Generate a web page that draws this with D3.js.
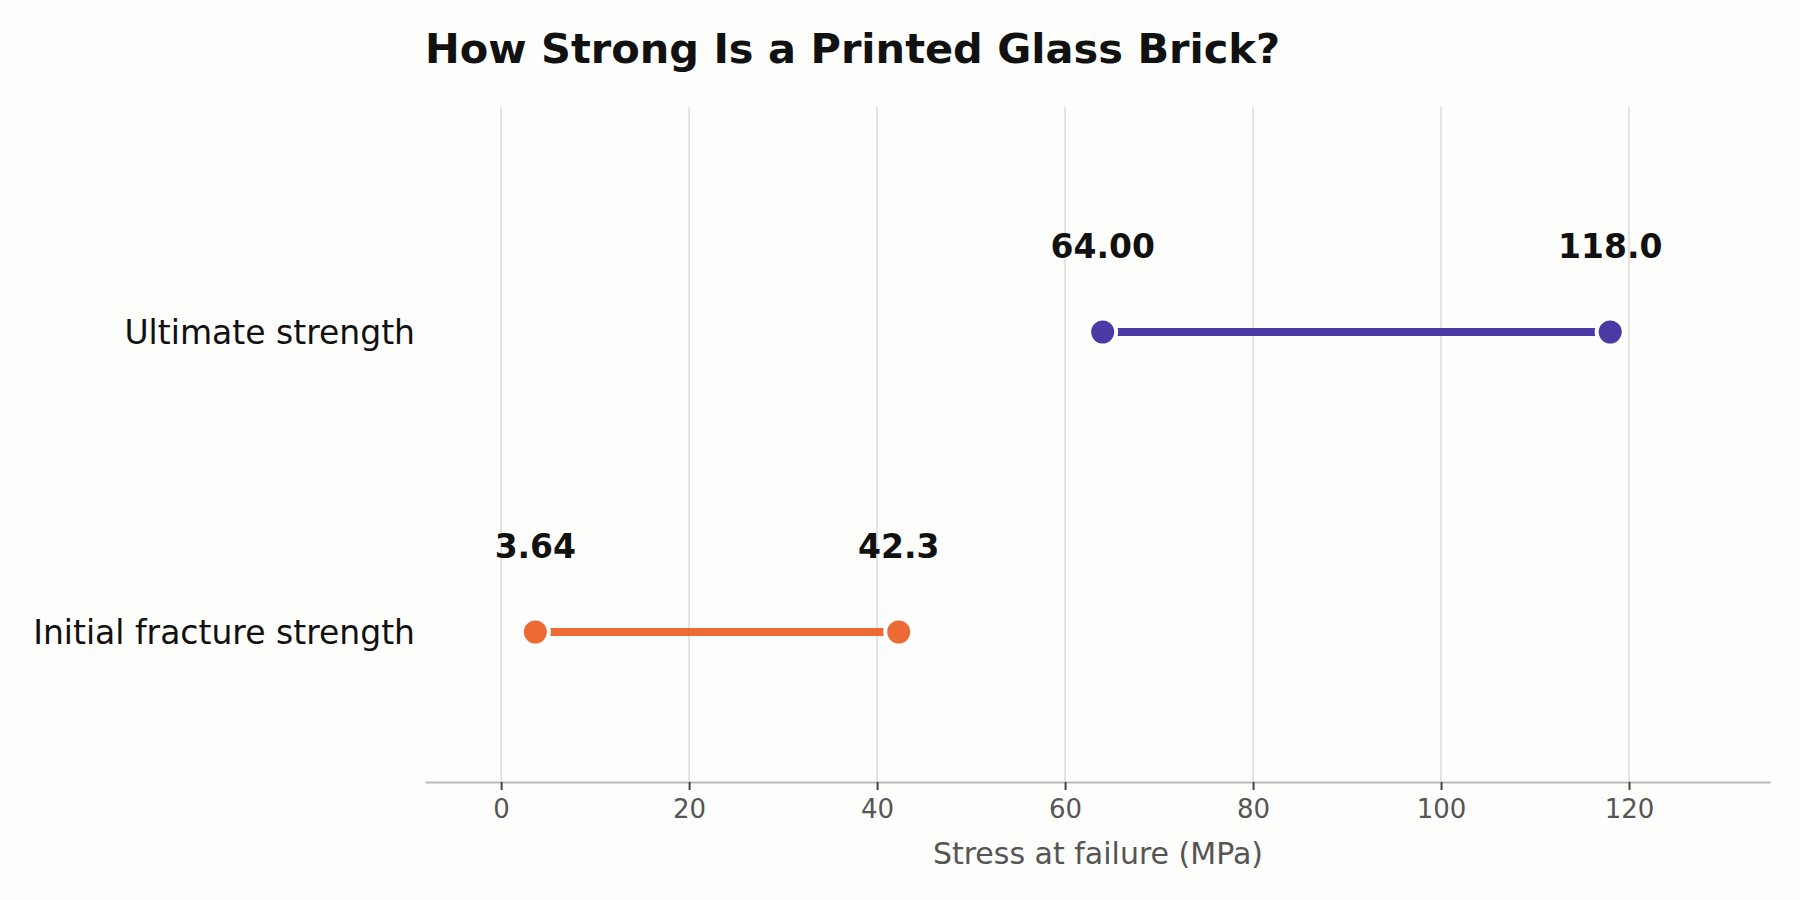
<!DOCTYPE html><html><head><meta charset="utf-8"><script src="https://cdn.jsdelivr.net/npm/d3@7"></script>
<style>body{margin:0;background:#fdfdfc}text{font-family:"DejaVu Sans",sans-serif}</style></head><body><svg id="c" width="1800" height="900"></svg><script>
const categories=["Ultimate strength","Initial fracture strength"];
const lowValues=[64.00,3.64];
const highValues=[118.0,42.3];
const lowLabels=["64.00","3.64"];
const highLabels=["118.0","42.3"];
const colors=["#4b3aa6","#ee6a35"];
const xTicks=[0,20,40,60,80,100,120];
const svg=d3.select("#c");
svg.append("rect").attr("width",1800).attr("height",900).attr("fill","#fdfdfc");
const x=d3.scaleLinear().domain([-8.1,135]).range([425,1770]);
const y=d3.scalePoint().domain(categories).range([332,632]);
const g=svg.append("g");
g.selectAll(".grid").data(xTicks).join("line").attr("x1",d=>x(d)).attr("x2",d=>x(d)).attr("y1",107).attr("y2",782).attr("stroke","#dddbd7").attr("stroke-width",1.5);
const ax=svg.append("g").attr("transform","translate(0,782)").call(d3.axisBottom(x).tickValues(xTicks).tickSize(8).tickSizeOuter(0).tickPadding(10));
ax.select(".domain").attr("stroke","#bbbab5").attr("stroke-width",2);
ax.selectAll(".tick line").attr("stroke","#444").attr("stroke-width",2);
ax.selectAll(".tick text").attr("fill","#555").attr("font-size",26).attr("font-family","DejaVu Sans");
svg.append("text").attr("x",x(63.5)).attr("y",864).attr("text-anchor","middle").attr("font-size",30).attr("fill","#555").text("Stress at failure (MPa)");
svg.append("text").attr("x",425).attr("y",63).attr("font-size",41.5).attr("font-weight","bold").attr("fill","#111").text("How Strong Is a Printed Glass Brick?");
categories.forEach((c,i)=>{
 const yy=y(c);
 svg.append("text").attr("x",415).attr("y",yy).attr("dy","0.35em").attr("text-anchor","end").attr("font-size",33).attr("fill","#111").text(c);
 svg.append("line").attr("x1",x(lowValues[i])).attr("x2",x(highValues[i])).attr("y1",yy).attr("y2",yy).attr("stroke",colors[i]).attr("stroke-width",8);
 [[lowValues[i],lowLabels[i]],[highValues[i],highLabels[i]]].forEach(([v,l])=>{
  svg.append("circle").attr("cx",x(v)).attr("cy",yy).attr("r",13.5).attr("fill",colors[i]).attr("stroke","#fff").attr("stroke-width",4);
  svg.append("text").attr("x",x(v)).attr("y",yy-74).attr("text-anchor","middle").attr("font-size",33).attr("font-weight","bold").attr("fill","#111").text(l);
 });
});
</script></body></html>
